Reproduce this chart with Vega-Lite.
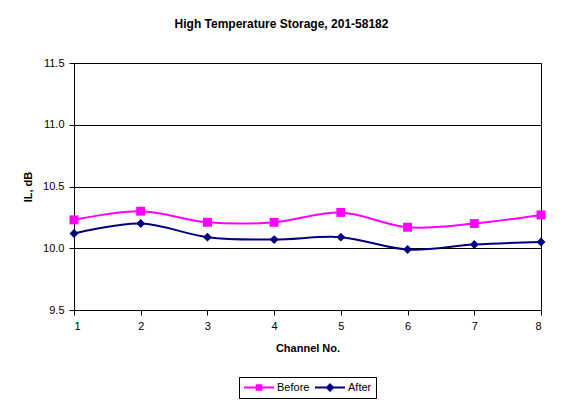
{
  "$schema": "https://vega.github.io/schema/vega-lite/v6.json",
  "width": 467,
  "height": 247,
  "autosize": "none",
  "padding": {"left": 74, "top": 63, "right": 23, "bottom": 95},
  "background": "white",
  "title": {
    "text": "High Temperature Storage, 201-58182",
    "font": "Liberation Sans",
    "fontSize": 12,
    "fontWeight": "bold",
    "color": "black",
    "anchor": "middle",
    "dx": -26,
    "offset": 26
  },
  "data": {
    "values": [
      {"channel": 1, "series": "Before", "il": 10.23},
      {"channel": 2, "series": "Before", "il": 10.30},
      {"channel": 3, "series": "Before", "il": 10.21},
      {"channel": 4, "series": "Before", "il": 10.21},
      {"channel": 5, "series": "Before", "il": 10.29},
      {"channel": 6, "series": "Before", "il": 10.17},
      {"channel": 7, "series": "Before", "il": 10.20},
      {"channel": 8, "series": "Before", "il": 10.27},
      {"channel": 1, "series": "After", "il": 10.12},
      {"channel": 2, "series": "After", "il": 10.20},
      {"channel": 3, "series": "After", "il": 10.09},
      {"channel": 4, "series": "After", "il": 10.07},
      {"channel": 5, "series": "After", "il": 10.09},
      {"channel": 6, "series": "After", "il": 9.99},
      {"channel": 7, "series": "After", "il": 10.03},
      {"channel": 8, "series": "After", "il": 10.05}
    ]
  },
  "encoding": {
    "x": {
      "field": "channel",
      "type": "quantitative",
      "scale": {"domain": [1, 8], "nice": false, "zero": false},
      "axis": {"values": [1, 2, 3, 4, 5, 6, 7, 8], "format": "d", "title": "Channel No.", "grid": false, "labelPadding": 5, "titlePadding": 11}
    },
    "y": {
      "field": "il",
      "type": "quantitative",
      "scale": {"domain": [9.5, 11.5], "nice": false, "zero": false},
      "axis": {"values": [9.5, 10, 10.5, 11, 11.5], "format": ".1f", "title": "IL, dB", "grid": true, "gridColor": "black", "gridOpacity": 1, "labelPadding": 5, "titlePadding": 9}
    }
  },
  "layer": [
    {
      "mark": {"type": "line", "interpolate": "cardinal", "strokeWidth": 2},
      "encoding": {
        "color": {"field": "series", "type": "nominal", "scale": {"domain": ["Before", "After"], "range": ["#ff00ff", "#000080"]}, "legend": null}
      }
    },
    {
      "mark": {"type": "point", "filled": true, "opacity": 1, "size": 80},
      "encoding": {
        "color": {"field": "series", "type": "nominal", "scale": {"domain": ["Before", "After"], "range": ["#ff00ff", "#000080"]}, "legend": null},
        "shape": {"field": "series", "type": "nominal", "scale": {"domain": ["Before", "After"], "range": ["square", "diamond"]}, "legend": null}
      }
    },
    {
      "mark": {"type": "point", "filled": true, "opacity": 0},
      "encoding": {
        "color": {
          "field": "series",
          "type": "nominal",
          "scale": {"domain": ["Before", "After"], "range": ["#ff00ff", "#000080"]},
          "legend": {
            "title": null,
            "orient": "bottom",
            "direction": "horizontal",
            "offset": 24,
            "padding": 4,
            "strokeColor": "black",
            "fillColor": "white",
            "symbolSize": 900,
            "symbolOpacity": 1,
            "clipHeight": 13,
            "labelOffset": 2,
            "columnPadding": 4,
            "labelFont": "Liberation Sans",
            "labelFontSize": 11,
            "labelColor": "black"
          }
        },
        "shape": {
          "field": "series",
          "type": "nominal",
          "scale": {"domain": ["Before", "After"], "range": ["M-1,-0.067H1V0.067H-1ZM-0.22,-0.22H0.22V0.22H-0.22Z", "M-1,-0.067H1V0.067H-1ZM0,-0.3L0.3,0L0,0.3L-0.3,0Z"]},
          "legend": {
            "title": null,
            "orient": "bottom",
            "direction": "horizontal",
            "offset": 24,
            "padding": 4,
            "strokeColor": "black",
            "fillColor": "white",
            "symbolSize": 900,
            "symbolOpacity": 1,
            "clipHeight": 13,
            "labelOffset": 2,
            "columnPadding": 4,
            "labelFont": "Liberation Sans",
            "labelFontSize": 11,
            "labelColor": "black"
          }
        }
      }
    }
  ],
  "resolve": {"scale": {"shape": "independent", "color": "independent"}},
  "config": {
    "view": {"stroke": "black", "strokeWidth": 1},
    "legend": {"layout": {"bottom": {"anchor": "middle"}}},
    "axis": {
      "domainColor": "black",
      "tickColor": "black",
      "tickSize": 5,
      "labelFont": "Liberation Sans",
      "labelFontSize": 11,
      "labelColor": "black",
      "titleFont": "Liberation Sans",
      "titleFontSize": 11,
      "titleFontWeight": "bold",
      "titleColor": "black"
    }
  }
}
